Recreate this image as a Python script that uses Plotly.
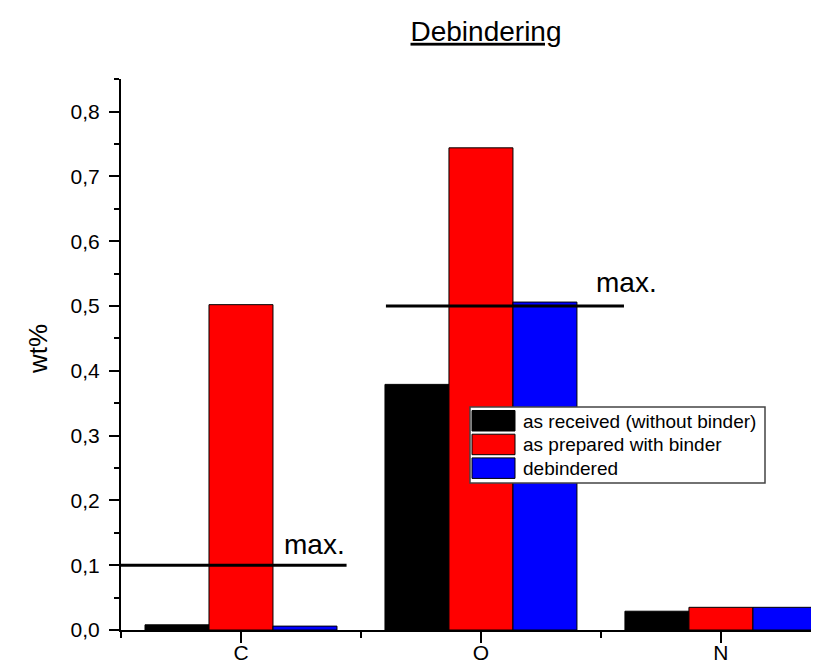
import plotly.graph_objects as go

# ---- data ----
elements = ["C", "O", "N"]
as_received = [0.008, 0.379, 0.029]
as_prepared = [0.502, 0.744, 0.035]
debindered = [0.006, 0.506, 0.035]
series_names = ["as received (without binder)", "as prepared with binder", "debindered"]
series_values = [as_received, as_prepared, debindered]
series_colors = ["#000000", "#ff0000", "#0000ff"]
max_elements = ["C", "O"]
max_limits = [0.1, 0.5]
y_tick_vals = [0.0, 0.1, 0.2, 0.3, 0.4, 0.5, 0.6, 0.7, 0.8]

# ---- layout geometry (pixels) ----
W, H = 819, 664
L, R, T, B = 113, 0, 71, 42
PW, PH = W - L - R, H - T - B
FONT = "Liberation Sans, Arial, Helvetica, sans-serif"


def px_x(p):
    return (p - L) / PW


def px_y(p):
    return (H - B - p) / PH


xpos = list(range(len(elements)))

fig = go.Figure()
for name, vals, col in zip(series_names, series_values, series_colors):
    fig.add_trace(go.Bar(
        x=xpos, y=vals, name=name,
        marker=dict(color=col, line=dict(color="#000000", width=1)),
        showlegend=False,
    ))

# max limit lines and labels
line_spans = {"C": (-0.5, 0.44), "O": (-0.396, 0.596)}
label_dx = {"C": 0.308, "O": 0.606}
label_shift = {"C": 3, "O": 6}
for el, lim in zip(max_elements, max_limits):
    i = elements.index(el)
    a, b = line_spans[el]
    fig.add_shape(type="line", xref="x", yref="y", x0=i + a, x1=i + b, y0=lim, y1=lim,
                  line=dict(color="#000000", width=3))
    fig.add_annotation(x=i + label_dx[el], y=lim, xref="x", yref="y", text="max.",
                       showarrow=False, yanchor="bottom", xanchor="center",
                       yshift=label_shift[el],
                       font=dict(family=FONT, size=28, color="#000000"))

# custom legend (wide swatches like the original)
leg_left, leg_top = 462, 399
row_h = 23.7
sw_x0, sw_x1 = 464, 507
text_x = 513
leg_right = 757
leg_bottom = leg_top + 3 * row_h + 5
fig.add_shape(type="rect", xref="paper", yref="paper",
              x0=px_x(leg_left), x1=px_x(leg_right), y0=px_y(leg_bottom), y1=px_y(leg_top),
              line=dict(color="#444444", width=1.5), fillcolor="#ffffff", layer="above")
for k, (name, col) in enumerate(zip(series_names, series_colors)):
    top = leg_top + 3.5 + k * row_h
    fig.add_shape(type="rect", xref="paper", yref="paper",
                  x0=px_x(sw_x0), x1=px_x(sw_x1), y0=px_y(top + 20.5), y1=px_y(top),
                  line=dict(color="#000000", width=1), fillcolor=col, layer="above")
    fig.add_annotation(x=px_x(text_x), y=px_y(top + 10.5), xref="paper", yref="paper",
                       text=name, showarrow=False, xanchor="left", yanchor="middle",
                       font=dict(family=FONT, size=19, color="#000000"))

# y-axis title
fig.add_annotation(x=px_x(30), y=px_y(341), xref="paper", yref="paper", text="wt%",
                   textangle=-90, showarrow=False, xanchor="center", yanchor="middle",
                   font=dict(family=FONT, size=26, color="#000000"))

fig.update_layout(
    width=W, height=H,
    margin=dict(l=L, r=R, t=T, b=B, pad=0),
    paper_bgcolor="#ffffff", plot_bgcolor="#ffffff",
    barmode="group", bargap=0.2, bargroupgap=0,
    separators=", ",
    font=dict(family=FONT, color="#000000"),
    title=dict(text="<u>Debindering</u>", x=478 / W, xref="container", xanchor="center",
               y=1 - 23 / H, yref="container", yanchor="middle",
               font=dict(family=FONT, size=28, color="#000000")),
    xaxis=dict(range=[-0.5, 2.442], tickmode="array", tickvals=xpos, ticktext=elements,
               showline=True, linecolor="#000000", linewidth=2, mirror=False,
               ticks="outside", ticklen=11, tickwidth=2, tickcolor="#000000",
               showgrid=False, zeroline=False, ticklabelstandoff=-8,
               tickfont=dict(family=FONT, size=21, color="#000000"),
               minor=dict(tickvals=[-0.5, 0.5, 1.5, 2.5], ticks="outside", ticklen=6,
                          tickwidth=2, tickcolor="#000000")),
    yaxis=dict(range=[0, 0.8502], tickmode="array", tickvals=y_tick_vals, tickformat=".1f",
               showline=True, linecolor="#000000", linewidth=2,
               ticks="outside", ticklen=10, tickwidth=2, tickcolor="#000000",
               showgrid=False, zeroline=False, ticklabelstandoff=5,
               tickfont=dict(family=FONT, size=21, color="#000000"),
               minor=dict(tickmode="linear", tick0=0, dtick=0.05, ticks="outside", ticklen=5,
                          tickwidth=2, tickcolor="#000000")),
)

fig.write_html("out.html")
